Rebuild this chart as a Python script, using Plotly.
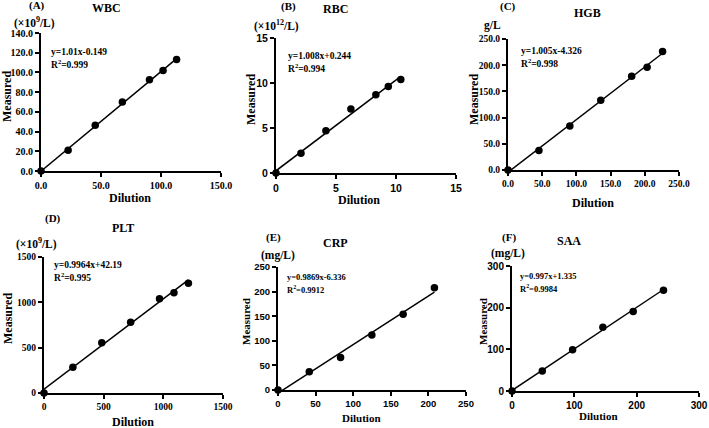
import plotly.graph_objects as go

W, H = 709, 428

# ---- data ----
panel_letters = ["(A)", "(B)", "(C)", "(D)", "(E)", "(F)"]
panel_titles = ["WBC", "RBC", "HGB", "PLT", "CRP", "SAA"]
panel_units = ["(×10<sup>9</sup>/L)", "(×10<sup>12</sup>/L)", "g/L", "(×10<sup>9</sup>/L)", "(mg/L)", "(mg/L)"]
equations = ["y=1.01x-0.149", "y=1.008x+0.244", "y=1.005x-4.326", "y=0.9964x+42.19", "y=0.9869x-6.336", "y=0.997x+1.335"]
r2_texts = ["R<sup>2</sup>=0.999", "R<sup>2</sup>=0.994", "R<sup>2</sup>=0.998", "R<sup>2</sup>=0.995", "R<sup>2</sup>=0.9912", "R<sup>2</sup>=0.9984"]
slopes = [1.01, 1.008, 1.005, 0.9964, 0.9869, 0.997]
intercepts = [-0.149, 0.244, -4.326, 42.19, -6.336, 1.335]

wbc_dil = [0, 22.6, 45.2, 67.8, 90.4, 101.7, 113]
wbc_meas = [0, 21, 46.5, 70, 92.5, 102, 113]
rbc_dil = [0, 2.08, 4.16, 6.24, 8.32, 9.36, 10.4]
rbc_meas = [0, 2.2, 4.7, 7.1, 8.7, 9.6, 10.4]
hgb_dil = [0, 45.2, 90.4, 135.6, 180.8, 203.4, 226]
hgb_meas = [0, 37, 84, 133, 179, 196, 226]
plt_dil = [0, 242, 484, 726, 968, 1089, 1210]
plt_meas = [0, 285, 555, 780, 1040, 1105, 1210]
crp_dil = [0, 41.6, 83.2, 124.8, 166.4, 208]
crp_meas = [0, 37, 66, 112, 154, 208]
saa_dil = [0, 48.6, 97.2, 145.8, 194.4, 243]
saa_meas = [0, 48, 99, 153, 191, 242]

dilutions = [wbc_dil, rbc_dil, hgb_dil, plt_dil, crp_dil, saa_dil]
measured = [wbc_meas, rbc_meas, hgb_meas, plt_meas, crp_meas, saa_meas]

x_ranges = [[0, 150], [0, 15], [0, 250], [0, 1500], [0, 250], [0, 300]]
y_ranges = [[0, 140], [0, 15], [0, 250], [0, 1500], [0, 250], [0, 300]]
x_dticks = [50, 5, 50, 500, 50, 100]
y_dticks = [20, 5, 50, 500, 50, 100]
tick_formats = [".1f", "d", ".1f", "d", "d", "d"]

# ---- layout (pixel positions) ----
# plot boxes: left, right, top, bottom
boxes = [
    (41, 221, 33, 171),
    (276, 456, 38, 173),
    (508, 679, 39, 170),
    (44, 223, 257, 393),
    (278, 466, 267, 390),
    (512, 699, 266, 391),
]
letter_pos = [(37, 6), (288, 7), (508, 7), (53, 218), (273, 237), (509, 237)]
title_pos = [(107, 8), (335, 9), (587, 13), (123, 228), (335, 243), (569, 241)]
unit_pos = [(34, 23), (276, 25), (492, 26), (36, 244), (278, 255), (508, 253)]
eq_pos = [(49, 52), (286, 56), (519, 51), (52, 265), (285, 277), (518, 276)]
r2_pos = [(49, 64), (286, 68), (519, 63), (52, 277), (285, 289), (518, 288)]
meas_pos = [(7, 97), (251, 100), (474, 100), (8, 319), (246, 322), (483, 322)]
dil_pos = [(130, 198), (359, 200), (593, 203), (133, 422), (361, 418), (598, 416)]

serif = "Liberation Serif"
sans = "Liberation Sans"
tick_fonts = [(serif, 10), (sans, 10.5), (serif, 9.5), (serif, 9.5), (sans, 9.5), (sans, 10)]


def px(x):
    return x / W


def py(y):
    return 1 - y / H


fig = go.Figure()
annotations = []


def add_text(text, pos, size, xanchor="center", angle=0):
    annotations.append(dict(
        text=text, x=px(pos[0]), y=py(pos[1]), xref="paper", yref="paper",
        showarrow=False, xanchor=xanchor, yanchor="middle", textangle=angle,
        font=dict(family=serif, size=size, color="black", weight="bold")))


for i in range(6):
    l, r, t, b = boxes[i]
    xa = "x" if i == 0 else f"x{i+1}"
    ya = "y" if i == 0 else f"y{i+1}"
    xmax = max(dilutions[i])
    fig.add_trace(go.Scatter(
        x=[0, xmax], y=[intercepts[i], slopes[i] * xmax + intercepts[i]],
        mode="lines", line=dict(color="black", width=1.5),
        xaxis=xa, yaxis=ya, showlegend=False, hoverinfo="skip"))
    fig.add_trace(go.Scatter(
        x=dilutions[i], y=measured[i], mode="markers",
        marker=dict(color="black", size=7.5),
        cliponaxis=False, xaxis=xa, yaxis=ya, showlegend=False))

    fam, fs = tick_fonts[i]
    axis_common = dict(
        showline=True, linecolor="black", linewidth=2,
        ticks="outside", ticklen=4, tickwidth=2, tickcolor="black",
        showgrid=False, zeroline=False, tick0=0, automargin=False,
        tickformat=tick_formats[i],
        tickfont=dict(family=fam, size=fs, color="black", weight="bold"),
        fixedrange=True,
    )
    xkey = "xaxis" if i == 0 else f"xaxis{i+1}"
    ykey = "yaxis" if i == 0 else f"yaxis{i+1}"
    fig.layout[xkey] = dict(axis_common, domain=[px(l), px(r)], range=x_ranges[i],
                            dtick=x_dticks[i], anchor=ya)
    fig.layout[ykey] = dict(axis_common, domain=[py(b), py(t)], range=y_ranges[i],
                            dtick=y_dticks[i], anchor=xa)

    big = 12 if i < 4 else 11
    add_text(panel_letters[i], letter_pos[i], 11)
    add_text(panel_titles[i], title_pos[i], 12)
    add_text(panel_units[i], unit_pos[i], 11.5)
    eq_fs = 9.5 if i < 4 else 8.5
    add_text(equations[i], eq_pos[i], eq_fs, xanchor="left")
    add_text(r2_texts[i], r2_pos[i], eq_fs, xanchor="left")
    add_text("Measured", meas_pos[i], big, angle=-90)
    add_text("Dilution", dil_pos[i], big)

fig.update_layout(
    width=W, height=H, margin=dict(l=0, r=0, t=0, b=0, autoexpand=False),
    paper_bgcolor="white", plot_bgcolor="white", template="none",
    annotations=annotations, showlegend=False,
)

fig.write_html(
    "out.html",
    config={"displayModeBar": False},
    post_script="document.body.style.margin='0';document.body.style.padding='0';document.body.style.overflow='hidden';",
)
